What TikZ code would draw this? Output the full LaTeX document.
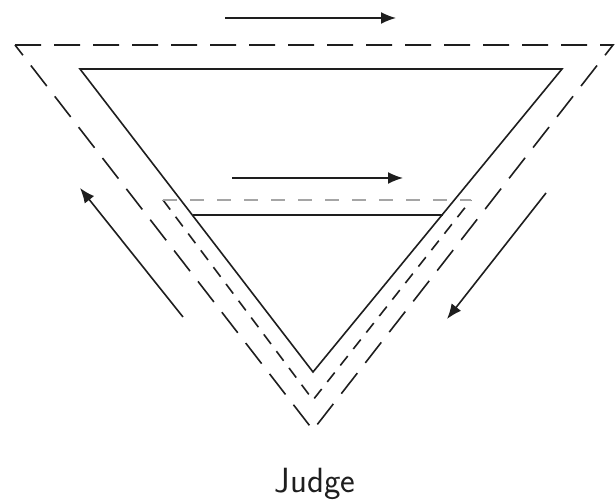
\documentclass[tikz,border=0pt]{standalone}
\usetikzlibrary{arrows.meta}
\begin{document}
\begin{tikzpicture}[x=1pt,y=1pt,
  solidLine/.style={draw=drawColor,line width=1.6pt,line join=miter},
  outerDash/.style={draw=drawColor,line width=1.6pt,dash pattern=on 26pt off 13pt},
  innerDash/.style={draw=drawColor,line width=1.6pt,dash pattern=on 12pt off 9pt},
  grayDash/.style={draw=grayColor,line width=2.8pt,dash pattern=on 14pt off 13pt},
  flowArrow/.style={draw=drawColor,line width=1.6pt,-{Latex[length=15pt,width=12pt]}}]
\definecolor{fillColor}{RGB}{255,255,255}
\definecolor{drawColor}{RGB}{30,30,30}
\definecolor{grayColor}{RGB}{165,165,165}
\path[use as bounding box,fill=fillColor] (0,0) rectangle (616,500);

% outer dashed triangle
\coordinate (outerL) at ( 15,455);
\coordinate (outerR) at (613,455);
\coordinate (outerB) at (313, 70);
\path[outerDash] (outerL) -- (outerR) -- (outerB) -- cycle;

% solid triangle and its cut line
\coordinate (solidL) at ( 80,431);
\coordinate (solidR) at (562,431);
\coordinate (solidB) at (313,128);
\path[solidLine] (solidL) -- (solidR) -- (solidB) -- cycle;
\coordinate (cutL) at (193,285);
\coordinate (cutR) at (443,285);
\path[solidLine] (cutL) -- (cutR);

% inner dashed wedge
\coordinate (innerL) at (163,300);
\coordinate (innerR) at (471,300);
\coordinate (innerB) at (313,100);
\path[innerDash] (innerL) -- (innerB) -- (innerR);
\path[grayDash] (innerL) -- (innerR);

% arrows
\coordinate (topA) at (225,482);
\coordinate (topB) at (396,482);
\path[flowArrow] (topA) -- (topB);
\coordinate (midA) at (232,322);
\coordinate (midB) at (403,322);
\path[flowArrow] (midA) -- (midB);
\coordinate (leftA) at (183,183);
\coordinate (leftB) at ( 80,312);
\path[flowArrow] (leftA) -- (leftB);
\coordinate (rightA) at (546,307);
\coordinate (rightB) at (447,181);
\path[flowArrow] (rightA) -- (rightB);

\node[text=drawColor,anchor=base,inner sep=0pt,outer sep=0pt,font=\sffamily\fontsize{35}{40}\selectfont] (judge) at (315,7) {Judge};
\end{tikzpicture}
\end{document}
